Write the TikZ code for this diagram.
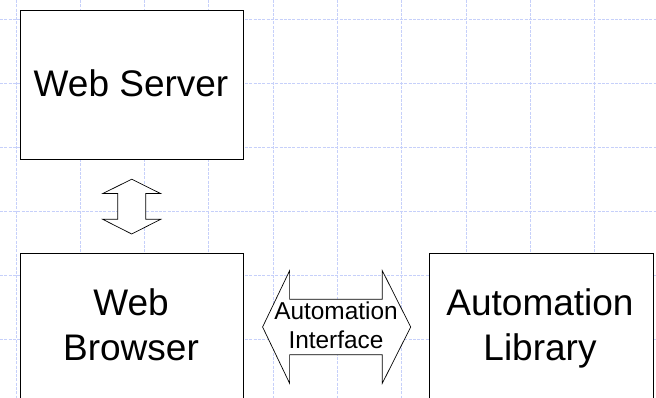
\documentclass[tikz,border=0pt]{standalone}
\usepackage{fontspec}
\setmainfont{Liberation Sans}
\usetikzlibrary{calc}
\definecolor{gridblue}{RGB}{198,208,250}
\begin{document}
\begin{tikzpicture}[x=1pt,y=-1pt,
  gridline/.style={draw=gridblue, line width=0.9pt, dash pattern=on 3pt off 1.3pt},
  block/.style={draw=black, line width=0.9pt, fill=white, inner sep=0pt},
  blockarrow/.style={draw=black, line width=0.7pt, fill=white, line join=miter},
  bigtext/.style={font=\fontsize{37}{45}\selectfont, align=center, inner sep=0pt, anchor=base},
  smalltext/.style={font=\fontsize{24.4}{29}\selectfont, align=center, inner sep=0pt, anchor=base}]
\useasboundingbox (0,0) rectangle (656,398);
\clip (0,0) rectangle (656,398);
\fill[white] (0,0) rectangle (656,398);

% background grid
\foreach \i in {0,...,10}
  \draw[gridline] ({16+64.3*\i},0) -- ({16+64.3*\i},398);
\foreach \j in {0,...,6}
  \draw[gridline] (0,{19.3+64*\j}) -- (656,{19.3+64*\j});

% boxes
\node[block, minimum width=223.5pt, minimum height=149pt, anchor=north west] (server) at (19.5,10.5) {};
\node[block, minimum width=223.5pt, minimum height=180pt, anchor=north west] (browser) at (19.5,252.7) {};
\node[block, minimum width=223.7pt, minimum height=180pt, anchor=north west] (library) at (429,252.7) {};

% labels (base anchor sits on the last line's baseline)
\node[bigtext] (servertext) at (131,96.7) {Web Server};
\node[bigtext] (browsertext) at (131,360) {Web\\Browser};
\node[bigtext] (librarytext) at (540,360) {Automation\\Library};

% vertical block arrow between server and browser
\coordinate (vt) at ($(server.south)+(0,18.8)$);
\coordinate (vb) at ($(browser.north)+(0,-18.7)$);
\draw[blockarrow] (vt) -- ($(vt)+(29,14.4)$) -- ($(vt)+(14,14.4)$)
  -- ($(vb)+(14,-14.7)$) -- ($(vb)+(29,-14.7)$) -- (vb)
  -- ($(vb)+(-29,-14.7)$) -- ($(vb)+(-14,-14.7)$)
  -- ($(vt)+(-14,14.4)$) -- ($(vt)+(-29,14.4)$) -- cycle;

% horizontal block arrow between browser and library
\coordinate (hl) at ($(browser.east |- 0,327)+(18.7,0)$);
\coordinate (hr) at ($(library.west |- 0,327)+(-18.3,0)$);
\draw[blockarrow] (hl) -- ($(hl)+(27,-56.3)$) -- ($(hl)+(27,-27.8)$)
  -- ($(hr)+(-28.4,-27.8)$) -- ($(hr)+(-28.4,-56.3)$) -- (hr)
  -- ($(hr)+(-28.4,56.3)$) -- ($(hr)+(-28.4,27.8)$)
  -- ($(hl)+(27,27.8)$) -- ($(hl)+(27,56.3)$) -- cycle;
\node[smalltext] (iface) at (336,348.3) {Automation\\Interface};
\end{tikzpicture}
\end{document}
